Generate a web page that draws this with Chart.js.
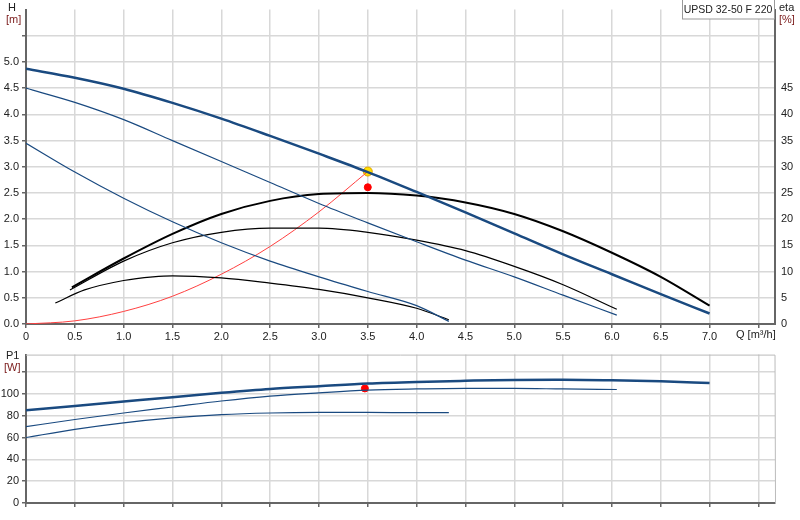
<!DOCTYPE html><html><head><script src="https://cdn.jsdelivr.net/npm/chart.js"></script>
<style>body{margin:0;background:#fff}canvas{position:absolute;left:0}#c1{top:0}#c2{top:345px}</style></head><body>
<canvas id="c1" width="800" height="345"></canvas><canvas id="c2" width="800" height="175"></canvas>
<script>
const qMax=[0,0.5,1,1.5,2,2.5,3,3.5,4,4.5,5,5.5,6,6.5,7];
const hMax=[4.87,4.70,4.49,4.22,3.92,3.59,3.25,2.90,2.52,2.13,1.73,1.33,0.95,0.57,0.2];
const qMid=[0,0.5,1,1.5,2,2.5,3,3.5,4,4.5,5,5.5,6.05];
const hMid=[4.5,4.23,3.9,3.5,3.1,2.7,2.3,1.93,1.57,1.22,0.9,0.55,0.17];
const qLow=[0,0.5,1,1.5,2,2.5,3,3.5,4,4.33];
const hLow=[3.45,2.9,2.4,1.95,1.55,1.2,0.9,0.62,0.35,0.05];
const qEtaMax=[0.47,1,1.5,2,2.5,3,3.5,4,4.5,5,5.5,6,6.5,7];
const etaMax=[7,12.5,17.2,21,23.5,24.8,25,24.5,23.2,21,17.7,13.6,9,3.5];
const qEtaMid=[0.45,1,1.5,2,2.5,3,3.5,4,4.5,5,5.5,6.05];
const etaMid=[6.5,12,15.5,17.5,18.3,18.3,17.5,16,14,11,7.5,2.8];
const qEtaLow=[0.3,0.6,1,1.3,1.5,2,2.5,3,3.5,4,4.33];
const etaLow=[4,6.5,8.3,9,9.2,8.8,7.8,6.6,5,3,0.8];
const qSys=[0,0.5,1,1.5,2,2.5,3,3.5];
const hSys=[0,0.06,0.24,0.53,0.95,1.48,2.14,2.91];
const dutyQ=3.5, dutyH=2.91, dutyEta=26.1;
const pMax=[85,89,93,97,101,104.5,107,109.5,111,112,112.8,113,112.5,111.5,110];
const pMid=[70,76.5,82.5,88,93.5,98,101,103.5,104.5,105,105,104.5,104];
const pLow=[60,67.5,73.5,78,81,82.5,83,83,82.8,82.8];
const dutyP=105;
const xy=(xs,ys)=>xs.map((x,i)=>({x:x,y:ys[i]}));
const line=(d,c,w,ax)=>({data:d,showLine:true,borderColor:c,borderWidth:w,pointRadius:0,cubicInterpolationMode:'monotone',yAxisID:ax||'y',fill:false});
const blue='#1a4a80',gridC='#d8d8d8',axC='#666';
const font={family:'Liberation Sans, Arial',size:11};
const xScale=(show)=>({type:'linear',min:0,max:7.67,afterBuildTicks:s=>{s.ticks=[];for(let v=0;v<=7.5;v+=0.5)s.ticks.push({value:v});},
 ticks:{display:show,color:'#222',font:font,padding:2,maxRotation:0,autoSkip:false,callback:v=>v===0?'0':(v>7.01?'':v.toFixed(1))},
 grid:{color:gridC,lineWidth:1.5,drawTicks:true,tickLength:4,tickColor:axC},border:{color:axC,width:2},
 afterFit:s=>{s.height=show?21:17;}});
const txt=(ctx,t,x,y,c,al)=>{ctx.fillStyle=c;ctx.textAlign=al||'left';ctx.fillText(t,x,y);};
const lst=(a,b,st)=>{const r=[];for(let v=a;v<=b+1e-9;v+=st)r.push({value:+v.toFixed(2)});return r;};
new Chart('c1',{type:'scatter',data:{datasets:[
 line(xy(qMax,hMax),blue,2.5),line(xy(qMid,hMid),blue,1.2),line(xy(qLow,hLow),blue,1.2),
 line(xy(qEtaMax,etaMax),'#000',2,'y2'),line(xy(qEtaMid,etaMid),'#000',1.2,'y2'),line(xy(qEtaLow,etaLow),'#000',1.2,'y2'),
 line(xy(qSys,hSys),'#ff4040',1),
 {data:[{x:dutyQ,y:dutyEta}],yAxisID:'y2',pointRadius:3.5,backgroundColor:'#f00',borderColor:'#f00'},
 {data:[{x:dutyQ,y:dutyH}],pointRadius:4.5,backgroundColor:'#ffe000',borderColor:'#e0a000',borderWidth:1}
]},options:{animation:false,responsive:false,layout:{padding:0},plugins:{legend:{display:false},tooltip:{enabled:false}},
 scales:{x:xScale(true),
 y:{min:0,max:6,afterBuildTicks:s=>{s.ticks=lst(0,5.5,0.5);},ticks:{color:'#222',font:font,padding:3,callback:v=>v>5.01?'':v.toFixed(1)},grid:{color:gridC,lineWidth:1.5,tickLength:4,tickColor:axC},border:{color:axC,width:2},afterFit:s=>{s.width=26;}},
 y2:{position:'right',min:0,max:60,afterBuildTicks:s=>{s.ticks=lst(0,45,5);},ticks:{color:'#222',font:font,padding:2},grid:{display:false,tickLength:4,tickColor:axC},border:{color:axC,width:2},afterFit:s=>{s.width=25;}}}},
 plugins:[{id:'t',afterDraw(c){const ctx=c.ctx;ctx.font='11px Liberation Sans, Arial';ctx.textBaseline='alphabetic';
  txt(ctx,'H',8,11,'#222');txt(ctx,'[m]',6,23,'#7a1a1a');
  txt(ctx,'eta',779,11,'#222');txt(ctx,'[%]',779,23,'#7a1a1a');
  txt(ctx,'Q [m³/h]',736,338,'#222');
  ctx.fillStyle='#fff';ctx.fillRect(682,0,92,19);ctx.strokeStyle='#999';ctx.lineWidth=1;ctx.strokeRect(682.5,-1,92,20);
  ctx.font='10.5px Liberation Sans, Arial';txt(ctx,'UPSD 32-50 F 220',728,13,'#222','center');}}]});
new Chart('c2',{type:'scatter',data:{datasets:[
 line(xy(qMax,pMax),blue,2.5),line(xy(qMid,pMid),blue,1.2),line(xy(qLow,pLow),blue,1.2),
 {data:[{x:3.47,y:dutyP}],pointRadius:3.5,backgroundColor:'#f00',borderColor:'#f00'}
]},options:{animation:false,responsive:false,layout:{padding:{top:6,right:25}},plugins:{legend:{display:false},tooltip:{enabled:false}},
 scales:{x:xScale(false),
 y:{min:0,max:136,afterBuildTicks:s=>{s.ticks=[0,20,40,60,80,100,120].map(v=>({value:v}));},ticks:{color:'#222',font:font,padding:3,callback:v=>v>100?'':String(v)},grid:{color:gridC,lineWidth:1.5,tickLength:4,tickColor:axC},border:{color:axC,width:2},afterFit:s=>{s.width=26;}}}},
 plugins:[{id:'t2',afterDraw(c){const ctx=c.ctx;ctx.font='11px Liberation Sans, Arial';
  txt(ctx,'P1',6,14,'#222');txt(ctx,'[W]',4,26,'#7a1a1a');
  const a=c.chartArea;ctx.strokeStyle='#bbb';ctx.lineWidth=1;ctx.beginPath();ctx.moveTo(a.left,a.top+0.5);ctx.lineTo(a.right,a.top+0.5);ctx.lineTo(a.right+0.5,a.bottom);ctx.stroke();}}]});
</script></body></html>
